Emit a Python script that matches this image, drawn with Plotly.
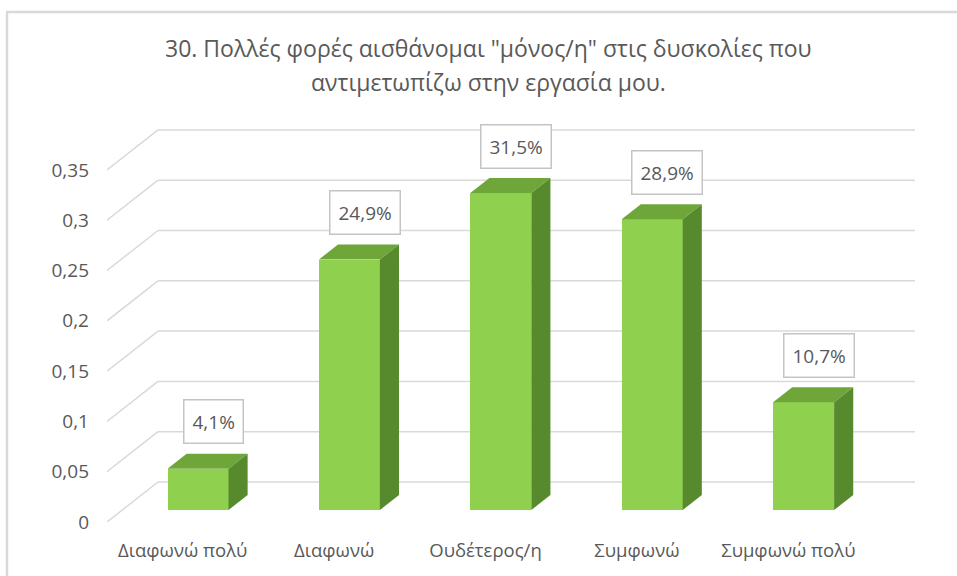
import plotly.graph_objects as go

# Survey answers and their shares
categories = ["Διαφωνώ πολύ", "Διαφωνώ", "Ουδέτερος/η", "Συμφωνώ", "Συμφωνώ πολύ"]
shares = [0.041, 0.249, 0.315, 0.289, 0.107]
tick_values = [0, 0.05, 0.10, 0.15, 0.20, 0.25, 0.30, 0.35]
title_lines = ['30. Πολλές φορές αισθάνομαι "μόνος/η" στις δυσκολίες που',
               'αντιμετωπίζω στην εργασία μου.']

# Canvas and pseudo-3D geometry (pixels)
W, H = 957, 576
ML, MR, MT, MB = 107, 42, 100, 54
PX_CAT = 151.4          # pixels per category slot
PX_VAL = 1006.0         # pixels per unit of value
DEPTH_PX = (51, 40)     # back-wall offset of the floor/wall depth
DX = DEPTH_PX[0] / PX_CAT
DY = DEPTH_PX[1] / PX_VAL
BAR_FRONT = 0.30        # depth fraction where bar front faces sit
BAR_DEPTH = 0.375       # depth fraction covered by each bar
BAR_W = 61 / PX_CAT

n = len(categories)
x_max = n + DX
plot_w = W - ML - MR
plot_h = H - MT - MB
y_max = plot_h / PX_VAL

GRID = "#D9D9D9"
TEXT = "#595959"
FRONT = "#8FD14F"
TOP = "#6FA63A"
SIDE = "#578A2C"
FONT = "Open Sans"

fig = go.Figure()
shapes = []

# Side-wall diagonals and back-wall gridlines
for v in tick_values:
    shapes.append(dict(type="line", xref="x", yref="y", x0=0, y0=v, x1=DX, y1=v + DY,
                       line=dict(color=GRID, width=1.5), layer="below"))
    shapes.append(dict(type="line", xref="x", yref="y", x0=DX, y0=v + DY, x1=n + DX, y1=v + DY,
                       line=dict(color=GRID, width=1.5), layer="below"))

base = BAR_FRONT * DY
shift_x = BAR_FRONT * DX
dx_b = BAR_DEPTH * DX
dy_b = BAR_DEPTH * DY
centers = [i + 0.5 + shift_x for i in range(n)]

# Front faces
fig.add_trace(go.Bar(x=centers, y=shares, base=[base] * n, width=BAR_W,
                     marker=dict(color=FRONT, line=dict(width=0)),
                     hoverinfo="skip", showlegend=False))

# Top and side faces
for c, v in zip(centers, shares):
    xl, xr = c - BAR_W / 2, c + BAR_W / 2
    yt = base + v
    fig.add_trace(go.Scatter(x=[xl, xr, xr + dx_b, xl + dx_b, xl],
                             y=[yt, yt, yt + dy_b, yt + dy_b, yt],
                             fill="toself", fillcolor=TOP, mode="lines",
                             line=dict(width=0, color=TOP), hoverinfo="skip", showlegend=False))
    fig.add_trace(go.Scatter(x=[xr, xr + dx_b, xr + dx_b, xr, xr],
                             y=[base, base + dy_b, yt + dy_b, yt, base],
                             fill="toself", fillcolor=SIDE, mode="lines",
                             line=dict(width=0, color=SIDE), hoverinfo="skip", showlegend=False))

annotations = []
# Value labels in boxes
for c, v in zip(centers, shares):
    annotations.append(dict(x=c + 0.1, y=base + v, xref="x", yref="y",
                            text=f"{v * 100:.1f}%".replace(".", ","),
                            showarrow=False, yshift=47,
                            font=dict(family=FONT, size=19, color=TEXT),
                            bgcolor="white", bordercolor="#C4C4C4", borderwidth=1.5, borderpad=8))


def px_x(p):
    return (p - ML) / plot_w


def px_y(p):
    return (H - MB - p) / plot_h


# Title
for line, yc in zip(title_lines, [48, 82]):
    annotations.append(dict(x=px_x(488), y=px_y(yc), xref="paper", yref="paper",
                            text=line, showarrow=False, xanchor="center", yanchor="middle",
                            font=dict(family=FONT, size=23, color=TEXT)))

# Chart frame (top and left edges)
shapes.append(dict(type="line", xref="paper", yref="paper", x0=px_x(6), y0=px_y(12),
                   x1=px_x(W + 5), y1=px_y(12), line=dict(color="#D9D9D9", width=2.5)))
shapes.append(dict(type="line", xref="paper", yref="paper", x0=px_x(7), y0=px_y(12),
                   x1=px_x(7), y1=px_y(H + 5), line=dict(color="#D9D9D9", width=2.5)))

fig.update_layout(
    width=W, height=H,
    margin=dict(l=ML, r=MR, t=MT, b=MB),
    paper_bgcolor="white", plot_bgcolor="white",
    shapes=shapes, annotations=annotations,
    bargap=0,
    xaxis=dict(range=[0, x_max], showgrid=False, zeroline=False, showline=False,
               tickmode="array", tickvals=[i + 0.5 for i in range(n)], ticktext=categories,
               ticks="", ticklabelstandoff=15,
               tickfont=dict(family=FONT, size=18.5, color=TEXT), fixedrange=True),
    yaxis=dict(range=[0, y_max], showgrid=False, zeroline=False, showline=False,
               tickmode="array", tickvals=tick_values,
               ticktext=[f"{v:g}".replace(".", ",") for v in tick_values],
               ticks="", ticklabelstandoff=17,
               tickfont=dict(family=FONT, size=19, color=TEXT), fixedrange=True),
)

fig.write_html("out.html")
